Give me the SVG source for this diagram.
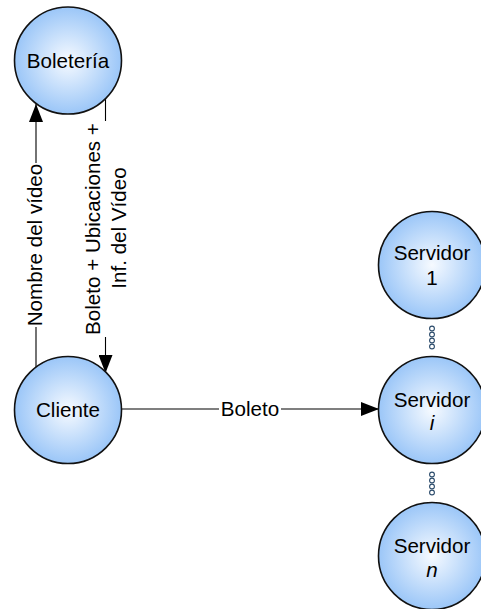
<svg xmlns="http://www.w3.org/2000/svg" width="481" height="609" viewBox="0 0 481 609">
  <style>
    .node circle { fill: url(#bubble); stroke: #111; stroke-width: 1.6; }
    .lbl { font-family: "Liberation Sans", Arial, sans-serif; font-size: 20.6px; fill: #000; text-anchor: middle; }
    .conn line { stroke: #000; stroke-width: 1.1; fill: none; }
    .dots circle { fill: #fff; stroke: #2a4a6a; stroke-width: 1.1; }
  </style>
  <defs>
    <radialGradient id="bubble" cx="50%" cy="50%" r="55%">
      <stop offset="0%" stop-color="#f6faff"/>
      <stop offset="100%" stop-color="#92c1f7"/>
    </radialGradient>
    <marker id="head" viewBox="0 0 18 14" refX="18" refY="7" markerWidth="18" markerHeight="14" markerUnits="userSpaceOnUse" orient="auto">
      <path d="M0,0 L18,7 L0,14 Z" fill="#000"/>
    </marker>
  </defs>

  <!-- connectors -->
  <g id="connectors" class="conn">
    <!-- Cliente -> Boletería -->
    <line x1="36" y1="368" x2="36" y2="327"/>
    <line x1="36" y1="163" x2="36" y2="104" marker-end="url(#head)"/>
    <!-- Boletería -> Cliente -->
    <line x1="105.5" y1="99" x2="105.5" y2="121"/>
    <line x1="105.5" y1="337" x2="105.5" y2="373" marker-end="url(#head)"/>
    <!-- Cliente -> Servidor i -->
    <line x1="121" y1="409" x2="219" y2="409"/>
    <line x1="281" y1="409" x2="379" y2="409" marker-end="url(#head)"/>
  </g>

  <!-- connector labels -->
  <g id="connector-labels">
    <text class="lbl" transform="translate(42,245) rotate(-90)">Nombre del vídeo</text>
    <text class="lbl" transform="translate(99.5,229) rotate(-90)">Boleto + Ubicaciones +</text>
    <text class="lbl" transform="translate(126,228) rotate(-90)">Inf. del Vídeo</text>
    <text class="lbl" x="250" y="416">Boleto</text>
  </g>

  <!-- ellipsis markers between servers -->
  <g id="dots-upper" class="dots">
    <circle cx="432" cy="328.5" r="2.4"/>
    <circle cx="432" cy="334.5" r="2.4"/>
    <circle cx="432" cy="340.5" r="2.4"/>
    <circle cx="432" cy="346.5" r="2.4"/>
  </g>
  <g id="dots-lower" class="dots">
    <circle cx="432" cy="474.5" r="2.4"/>
    <circle cx="432" cy="480.5" r="2.4"/>
    <circle cx="432" cy="486.5" r="2.4"/>
    <circle cx="432" cy="492.5" r="2.4"/>
  </g>

  <g id="boleteria" class="node">
    <circle cx="68" cy="60.5" r="53.5"/>
    <text class="lbl" x="68" y="67.5">Boletería</text>
  </g>

  <g id="cliente" class="node">
    <circle cx="68" cy="410" r="53.5"/>
    <text class="lbl" x="68" y="417">Cliente</text>
  </g>

  <g id="servidor-1" class="node">
    <circle cx="432" cy="265" r="53.5"/>
    <text class="lbl" x="432" y="260">Servidor</text>
    <text class="lbl" x="432" y="285">1</text>
  </g>

  <g id="servidor-i" class="node">
    <circle cx="432" cy="410" r="53.5"/>
    <text class="lbl" x="432" y="407">Servidor</text>
    <text class="lbl" x="432" y="430" font-style="italic">i</text>
  </g>

  <g id="servidor-n" class="node">
    <circle cx="432" cy="556" r="53.5"/>
    <text class="lbl" x="432" y="553">Servidor</text>
    <text class="lbl" x="432" y="577" font-style="italic">n</text>
  </g>
</svg>
